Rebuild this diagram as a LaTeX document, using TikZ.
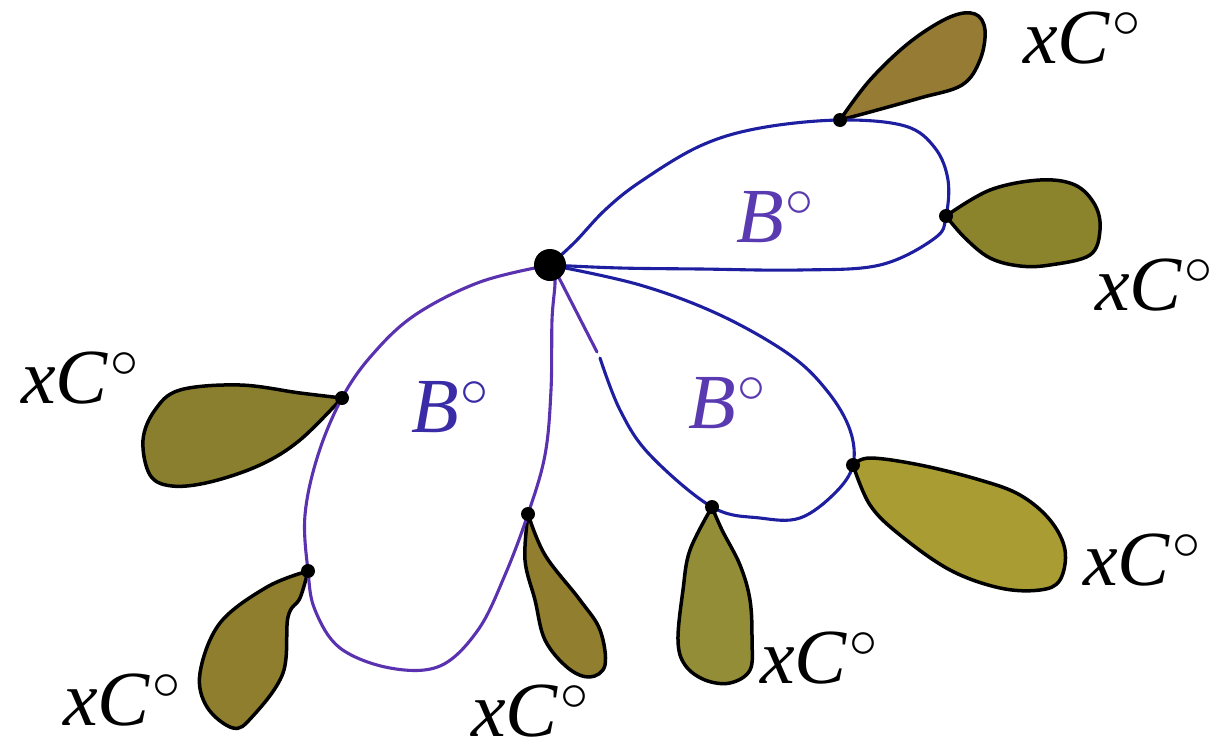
\documentclass[tikz,border=0pt]{standalone}
\usepackage{fontspec}
\setmainfont{Liberation Serif}
\DeclareFontShape{OMS}{cmsy}{m}{n}{<->cmsy10}{}
\definecolor{loopblue}{HTML}{1E1EA0}
\definecolor{looppurple}{HTML}{5A32B0}
\definecolor{labpurple}{HTML}{5A3AB0}
\definecolor{labblue}{HTML}{3A2CA6}
\definecolor{pA}{HTML}{967B35}
\definecolor{pB}{HTML}{8C842C}
\definecolor{pC}{HTML}{8A7F2E}
\definecolor{pD}{HTML}{8E7E2E}
\definecolor{pE}{HTML}{917E2E}
\definecolor{pF}{HTML}{938D38}
\definecolor{pG}{HTML}{A89C33}
\newcommand{\ringsup}{\kern2pt\raisebox{26pt}{\fontsize{56}{56}\selectfont$\circ$}}
\begin{document}
\begin{tikzpicture}[x=1pt,y=-1pt,
  loopline/.style={line width=3.1pt, line cap=round, line join=round},
  petal/.style={draw=black, line width=3.5pt, line join=round},
  tipdot/.style={circle, fill=black, inner sep=0pt, minimum size=14pt},
  hubdot/.style={circle, fill=black, inner sep=0pt, minimum size=32pt},
  lab/.style={font=\fontsize{78}{78}\selectfont, inner sep=0pt, anchor=base west}]
\useasboundingbox (0,0) rectangle (1216,747);

% attachment points
\coordinate (h) at (550,265);
\coordinate (t1) at (840,120);
\coordinate (t2) at (946,216);
\coordinate (t3) at (342,398);
\coordinate (t4) at (308,571);
\coordinate (t5) at (528,514);
\coordinate (t6) at (712,507);
\coordinate (t7) at (853,465);

% petals
\path[petal, fill=pA] plot[smooth, tension=0.6] coordinates {(t1) (870,80) (910,42) (950,17) (975,14) (985,30) (980,60) (962,85) (920,98) (870,112) (t1)};
\path[petal, fill=pB] plot[smooth, tension=0.6] coordinates {(t2) (990,190) (1040,180) (1075,185) (1095,205) (1100,230) (1090,255) (1050,265) (1020,266) (990,258) (965,238) (t2)};
\path[petal, fill=pC] plot[smooth, tension=0.6] coordinates {(t3) (300,393) (240,385) (180,390) (155,410) (143,440) (150,475) (172,486) (210,482) (260,465) (300,440) (t3)};
\path[petal, fill=pD] plot[smooth, tension=0.6] coordinates {(t4) (267,587) (220,623) (200,673) (207,707) (233,728) (252,717) (283,673) (288,617) (300,598) (t4)};
\path[petal, fill=pE] plot[smooth, tension=0.6] coordinates {(t5) (545,555) (580,600) (600,630) (605,665) (590,677) (568,668) (545,640) (535,600) (525,560) (t5)};
\path[petal, fill=pF] plot[smooth, tension=0.6] coordinates {(t6) (722,530) (740,565) (750,600) (752,640) (750,670) (730,683) (705,680) (685,665) (678,640) (683,590) (690,550) (t6)};
\path[petal, fill=pG] plot[smooth, tension=0.6] coordinates {(t7) (870,458) (920,465) (980,480) (1020,495) (1050,520) (1065,550) (1060,580) (1040,590) (1000,588) (950,570) (900,535) (870,505) (t7)};

% loops
\draw[loopline, loopblue] plot[smooth, tension=0.6] coordinates {(h) (575,242) (605,210) (640,182) (700,146) (760,128) (t1) (905,126) (935,148) (948,180) (t2) (935,238) (880,265) (800,270) (700,269) (620,268) (h)};
\draw[loopline, looppurple] plot[smooth, tension=0.6] coordinates {(h) (480,282) (415,315) (372,355) (t3) (318,455) (305,515) (t4) (315,610) (340,648) (390,668) (440,666) (478,630) (505,575) (t5) (545,455) (551,390) (552,320) (555,280) (h)};
\draw[loopline, looppurple] (556,272) -- (597,352);
\draw[loopline, loopblue] plot[smooth, tension=0.6] coordinates {(600,358) (620,410) (650,455) (t6) (760,518) (800,518) (835,493) (t7) (850,430) (828,392) (790,355) (720,315) (640,285) (h)};

% dots
\node[hubdot] (hub) at (h) {};
\foreach \i in {1,...,7} \node[tipdot] (d\i) at (t\i) {};

% labels
\node[lab] (c1) at (1023,63) {\textit{xC}\ringsup};
\node[lab] (c2) at (1095,310) {\textit{xC}\ringsup};
\node[lab] (c3) at (21,403) {\textit{xC}\ringsup};
\node[lab] (c4) at (63,725) {\textit{xC}\ringsup};
\node[lab] (c5) at (471,736) {\textit{xC}\ringsup};
\node[lab] (c6) at (760,683) {\textit{xC}\ringsup};
\node[lab] (c7) at (1083,585) {\textit{xC}\ringsup};
\node[lab, text=labpurple] (b1) at (736,242) {\textit{B}\ringsup};
\node[lab, text=labblue] (b2) at (411,432) {\textit{B}\ringsup};
\node[lab, text=labpurple] (b3) at (688,428) {\textit{B}\ringsup};
\end{tikzpicture}
\end{document}
